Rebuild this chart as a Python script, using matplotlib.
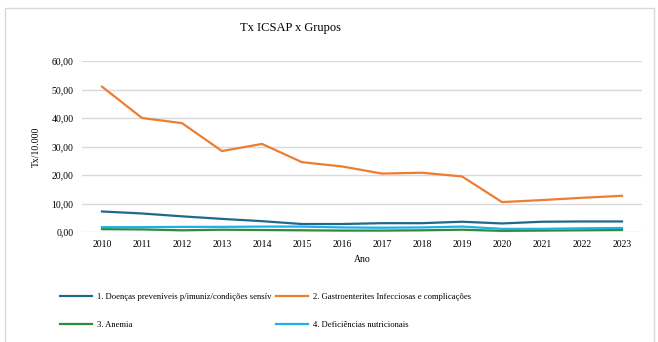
import matplotlib.pyplot as plt
from matplotlib.patches import Rectangle

# Dados
anos = [2010, 2011, 2012, 2013, 2014, 2015, 2016, 2017, 2018, 2019, 2020, 2021, 2022, 2023]
doencas_prev = [7.2, 6.5, 5.5, 4.6, 3.8, 2.8, 2.8, 3.1, 3.1, 3.6, 3.0, 3.6, 3.7, 3.7]
gastro = [51.0, 40.0, 38.2, 28.4, 30.9, 24.5, 23.0, 20.5, 20.8, 19.5, 10.5, 11.2, 12.0, 12.7]
anemia = [1.0, 0.9, 0.6, 0.8, 0.7, 0.6, 0.5, 0.5, 0.6, 0.8, 0.4, 0.5, 0.6, 0.7]
deficiencias = [1.7, 1.7, 1.8, 1.8, 1.9, 1.9, 1.6, 1.5, 1.6, 1.9, 1.1, 1.1, 1.3, 1.4]
yticks = [0, 10, 20, 30, 40, 50, 60]

nomes = ['1. Doenças preveníveis p/imuniz/condições sensív',
         '2. Gastroenterites Infecciosas e complicações',
         '3. Anemia',
         '4. Deficiências nutricionais']
cores = ['#21698c', '#ed7d31', '#2e8b3a', '#1fb0ea']

plt.rcParams['font.family'] = ['Liberation Serif', 'DejaVu Serif']

fig = plt.figure(figsize=(6.58, 3.42), dpi=100)
fig.patches.append(Rectangle((5 / 658, -0.01), 649 / 658, 1 - 8 / 342 + 0.01,
                             transform=fig.transFigure, fill=False,
                             edgecolor='#d9d9d9', linewidth=1))

ax = fig.add_axes([82 / 658, 1 - 232 / 342, (642 - 82) / 658, (232 - 61) / 342])

x = list(range(len(anos)))
series = [doencas_prev, gastro, anemia, deficiencias]
linhas = []
for s, c, nome in zip(series, cores, nomes):
    l, = ax.plot(x, s, '-', color=c, linewidth=1.6, label=nome)
    linhas.append(l)

ax.set_xlim(-0.5, len(anos) - 0.5)
ax.set_ylim(0, 60)
ax.set_yticks(yticks)
ax.set_yticklabels(['%d,00' % v for v in yticks], fontsize=7)
ax.set_xticks(x)
ax.set_xticklabels([str(a) for a in anos], fontsize=7)
ax.tick_params(length=0, pad=6)
ax.grid(axis='y', color='#d9d9d9', linewidth=1)
ax.set_axisbelow(True)
for sp in ax.spines.values():
    sp.set_visible(False)

ax.set_xlabel('Ano', fontsize=7, labelpad=4)
ax.set_ylabel('Tx/10.000', fontsize=7, labelpad=8)

fig.text(290 / 658, 1 - 28 / 342, 'Tx ICSAP x Grupos', fontsize=9,
         ha='center', va='center')

# legenda preenchida por linhas (1, 2 / 3, 4)
ordem = [0, 2, 1, 3]
fig.legend(handles=[linhas[i] for i in ordem], loc='upper left',
           bbox_to_anchor=(52 / 658, 1 - 285 / 342),
           ncol=2, frameon=False, fontsize=6.2, handlelength=3.8,
           handletextpad=0.5, columnspacing=0.5, labelspacing=2.3)

fig.savefig('out.png', dpi=100)
